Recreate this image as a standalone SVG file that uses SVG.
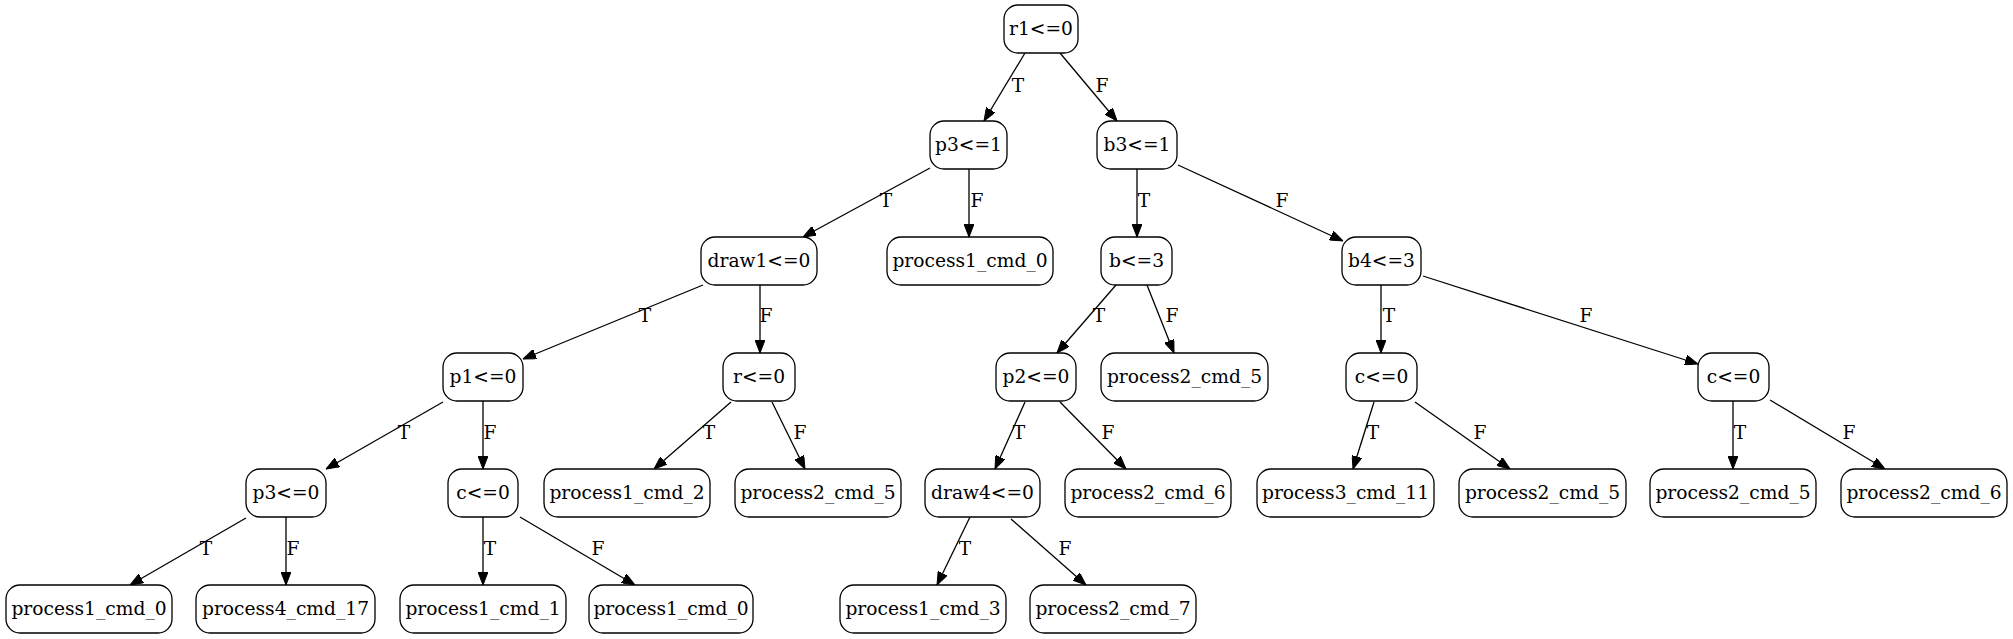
<svg xmlns="http://www.w3.org/2000/svg" width="2013" height="639" viewBox="0 0 2013 639">
<style>
.n rect{fill:#fff;stroke:#000;stroke-width:1.3}
text{font-family:"DejaVu Serif","Liberation Serif",serif;font-size:18.67px;fill:#000;text-anchor:middle}
.e line{stroke:#000;stroke-width:1.3;marker-end:url(#ah)}
</style>
<defs>
<marker id="ah" viewBox="0 0 13 10" refX="13" refY="5" markerWidth="13" markerHeight="10" markerUnits="userSpaceOnUse" orient="auto"><path d="M0,0 L13,5 L0,10 z" fill="#000" stroke="#000" stroke-width="1"/></marker>
</defs>
<rect width="2013" height="639" fill="#fff"/>
<g id="edges" class="e">
<line x1="1025" y1="53" x2="984" y2="121"/>
<line x1="1060" y1="53" x2="1117" y2="121"/>
<line x1="930" y1="168" x2="803" y2="237"/>
<line x1="969" y1="169" x2="969" y2="237"/>
<line x1="1137" y1="169" x2="1137" y2="237"/>
<line x1="1178" y1="165" x2="1343" y2="241"/>
<line x1="703" y1="285" x2="523" y2="359"/>
<line x1="760" y1="285" x2="760" y2="353"/>
<line x1="1116" y1="285" x2="1057" y2="353"/>
<line x1="1147" y1="285" x2="1174" y2="353"/>
<line x1="1381" y1="285" x2="1381" y2="353"/>
<line x1="1423" y1="276" x2="1698" y2="364"/>
<line x1="443" y1="402" x2="326" y2="469"/>
<line x1="483" y1="401" x2="483" y2="469"/>
<line x1="731" y1="402" x2="654" y2="469"/>
<line x1="772" y1="402" x2="805" y2="469"/>
<line x1="1025" y1="402" x2="995" y2="469"/>
<line x1="1060" y1="402" x2="1126" y2="469"/>
<line x1="1374" y1="402" x2="1353" y2="469"/>
<line x1="1415" y1="402" x2="1510" y2="469"/>
<line x1="1733" y1="401" x2="1733" y2="469"/>
<line x1="1770" y1="400" x2="1885" y2="469"/>
<line x1="246" y1="518" x2="130" y2="585"/>
<line x1="286" y1="517" x2="286" y2="585"/>
<line x1="483" y1="517" x2="483" y2="585"/>
<line x1="520" y1="517" x2="635" y2="585"/>
<line x1="970" y1="517" x2="937" y2="585"/>
<line x1="1011" y1="519" x2="1086" y2="585"/>
</g>
<g id="edge-labels">
<text x="1018" y="92">T</text>
<text x="1102" y="92">F</text>
<text x="886" y="207">T</text>
<text x="977" y="207">F</text>
<text x="1144" y="207">T</text>
<text x="1282" y="207">F</text>
<text x="645" y="322">T</text>
<text x="766" y="322">F</text>
<text x="1099" y="322">T</text>
<text x="1172" y="322">F</text>
<text x="1389" y="322">T</text>
<text x="1586" y="322">F</text>
<text x="404" y="439">T</text>
<text x="490" y="439">F</text>
<text x="709" y="439">T</text>
<text x="800" y="439">F</text>
<text x="1019" y="439">T</text>
<text x="1108" y="439">F</text>
<text x="1373" y="439">T</text>
<text x="1480" y="439">F</text>
<text x="1740" y="439">T</text>
<text x="1849" y="439">F</text>
<text x="206" y="555">T</text>
<text x="293" y="555">F</text>
<text x="490" y="555">T</text>
<text x="598" y="555">F</text>
<text x="965" y="555">T</text>
<text x="1065" y="555">F</text>
</g>
<g id="n0" class="n"><rect x="1004" y="5" width="74" height="48" rx="14"/><text x="1041" y="35">r1&lt;=0</text></g>
<g id="n1" class="n"><rect x="930" y="121" width="77" height="48" rx="14"/><text x="968.5" y="151">p3&lt;=1</text></g>
<g id="n2" class="n"><rect x="1097" y="121" width="80" height="48" rx="14"/><text x="1137" y="151">b3&lt;=1</text></g>
<g id="n3" class="n"><rect x="701" y="237" width="116" height="48" rx="14"/><text x="759" y="267">draw1&lt;=0</text></g>
<g id="n4" class="n"><rect x="887" y="237" width="166" height="48" rx="14"/><text x="970" y="267">process1_cmd_0</text></g>
<g id="n5" class="n"><rect x="1101" y="237" width="71" height="48" rx="14"/><text x="1136.5" y="267">b&lt;=3</text></g>
<g id="n6" class="n"><rect x="1342" y="237" width="79" height="48" rx="14"/><text x="1381.5" y="267">b4&lt;=3</text></g>
<g id="n7" class="n"><rect x="443" y="353" width="80" height="48" rx="14"/><text x="483" y="383">p1&lt;=0</text></g>
<g id="n8" class="n"><rect x="723" y="353" width="72" height="48" rx="14"/><text x="759" y="383">r&lt;=0</text></g>
<g id="n9" class="n"><rect x="996" y="353" width="80" height="48" rx="14"/><text x="1036" y="383">p2&lt;=0</text></g>
<g id="n10" class="n"><rect x="1101" y="353" width="167" height="48" rx="14"/><text x="1184.5" y="383">process2_cmd_5</text></g>
<g id="n11" class="n"><rect x="1346" y="353" width="71" height="48" rx="14"/><text x="1381.5" y="383">c&lt;=0</text></g>
<g id="n12" class="n"><rect x="1698" y="353" width="71" height="48" rx="14"/><text x="1733.5" y="383">c&lt;=0</text></g>
<g id="n13" class="n"><rect x="246" y="469" width="80" height="48" rx="14"/><text x="286" y="499">p3&lt;=0</text></g>
<g id="n14" class="n"><rect x="448" y="469" width="70" height="48" rx="14"/><text x="483" y="499">c&lt;=0</text></g>
<g id="n15" class="n"><rect x="544" y="469" width="166" height="48" rx="14"/><text x="627" y="499">process1_cmd_2</text></g>
<g id="n16" class="n"><rect x="735" y="469" width="166" height="48" rx="14"/><text x="818" y="499">process2_cmd_5</text></g>
<g id="n17" class="n"><rect x="925" y="469" width="115" height="48" rx="14"/><text x="982.5" y="499">draw4&lt;=0</text></g>
<g id="n18" class="n"><rect x="1065" y="469" width="166" height="48" rx="14"/><text x="1148" y="499">process2_cmd_6</text></g>
<g id="n19" class="n"><rect x="1257" y="469" width="177" height="48" rx="14"/><text x="1345.5" y="499">process3_cmd_11</text></g>
<g id="n20" class="n"><rect x="1459" y="469" width="167" height="48" rx="14"/><text x="1542.5" y="499">process2_cmd_5</text></g>
<g id="n21" class="n"><rect x="1650" y="469" width="166" height="48" rx="14"/><text x="1733" y="499">process2_cmd_5</text></g>
<g id="n22" class="n"><rect x="1841" y="469" width="166" height="48" rx="14"/><text x="1924" y="499">process2_cmd_6</text></g>
<g id="n23" class="n"><rect x="6" y="585" width="166" height="48" rx="14"/><text x="89" y="615">process1_cmd_0</text></g>
<g id="n24" class="n"><rect x="196" y="585" width="179" height="48" rx="14"/><text x="285.5" y="615">process4_cmd_17</text></g>
<g id="n25" class="n"><rect x="400" y="585" width="166" height="48" rx="14"/><text x="483" y="615">process1_cmd_1</text></g>
<g id="n26" class="n"><rect x="589" y="585" width="164" height="48" rx="14"/><text x="671" y="615">process1_cmd_0</text></g>
<g id="n27" class="n"><rect x="840" y="585" width="166" height="48" rx="14"/><text x="923" y="615">process1_cmd_3</text></g>
<g id="n28" class="n"><rect x="1030" y="585" width="166" height="48" rx="14"/><text x="1113" y="615">process2_cmd_7</text></g>
</svg>
